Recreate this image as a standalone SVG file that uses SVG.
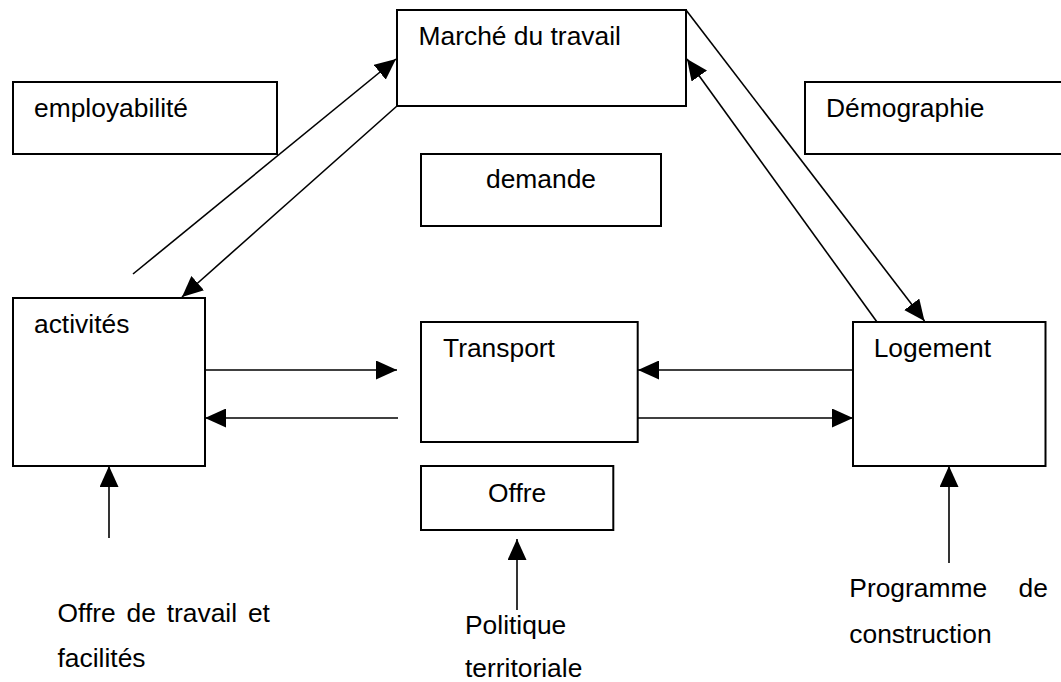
<svg xmlns="http://www.w3.org/2000/svg" width="1061" height="682" viewBox="0 0 1061 682">
<style>
.box{fill:#fff;stroke:#000;stroke-width:2}
.lbl{font-family:"Liberation Sans",Arial,sans-serif;font-size:26.4px;fill:#000}
.con{fill:none;stroke:#000;stroke-width:1.6}
</style>
<defs>
<marker id="ah" markerUnits="userSpaceOnUse" markerWidth="21" markerHeight="19" refX="21" refY="9.5" orient="auto" viewBox="0 0 21 19">
<path d="M0,0 L21,9.5 L0,19 Z" fill="#000"/>
</marker>
</defs>
<rect width="1061" height="682" fill="#fff"/>
<g id="marche"><rect class="box" x="397" y="10" width="289" height="96"/><text class="lbl" x="418.5" y="45">Marché du travail</text></g>
<g id="employabilite"><rect class="box" x="13" y="82" width="264" height="72"/><text class="lbl" x="34" y="117">employabilité</text></g>
<g id="demographie"><rect class="box" x="805" y="82" width="262" height="72"/><text class="lbl" x="826" y="117">Démographie</text></g>
<g id="demande"><rect class="box" x="421" y="154" width="240" height="72"/><text class="lbl" x="486" y="188">demande</text></g>
<g id="activites"><rect class="box" x="13" y="298" width="192" height="168"/><text class="lbl" x="34" y="333">activités</text></g>
<g id="transport"><rect class="box" x="421" y="322" width="216.7" height="120"/><text class="lbl" x="443" y="357">Transport</text></g>
<g id="logement"><rect class="box" x="853" y="322" width="192.5" height="144"/><text class="lbl" x="873.7" y="357">Logement</text></g>
<g id="offre"><rect class="box" x="421" y="466" width="192.3" height="64"/><text class="lbl" x="488" y="502">Offre</text></g>
<g id="offre-travail"><text class="lbl" x="57.5" y="622" word-spacing="3.5">Offre de travail et</text><text class="lbl" x="57.5" y="667">facilités</text></g>
<g id="politique"><text class="lbl" x="465" y="634">Politique</text><text class="lbl" x="465" y="677">territoriale</text></g>
<g id="programme"><text class="lbl" x="849.3" y="597" word-spacing="24">Programme de</text><text class="lbl" x="849.3" y="643">construction</text></g>
<g id="connectors">
<line class="con" x1="133" y1="274" x2="396" y2="59" marker-end="url(#ah)"/>
<line class="con" x1="397" y1="106" x2="182" y2="297" marker-end="url(#ah)"/>
<line class="con" x1="686" y1="10" x2="924.5" y2="321" marker-end="url(#ah)"/>
<line class="con" x1="877" y1="322" x2="687" y2="59" marker-end="url(#ah)"/>
<line class="con" x1="205" y1="370" x2="397" y2="370" marker-end="url(#ah)"/>
<line class="con" x1="398" y1="418" x2="205" y2="418" marker-end="url(#ah)"/>
<line class="con" x1="853" y1="370" x2="638" y2="370" marker-end="url(#ah)"/>
<line class="con" x1="638" y1="418" x2="853" y2="418" marker-end="url(#ah)"/>
<line class="con" x1="109" y1="538" x2="109" y2="466" marker-end="url(#ah)"/>
<line class="con" x1="517" y1="610" x2="517" y2="539" marker-end="url(#ah)"/>
<line class="con" x1="949" y1="563" x2="949" y2="466" marker-end="url(#ah)"/>
</g>
</svg>
